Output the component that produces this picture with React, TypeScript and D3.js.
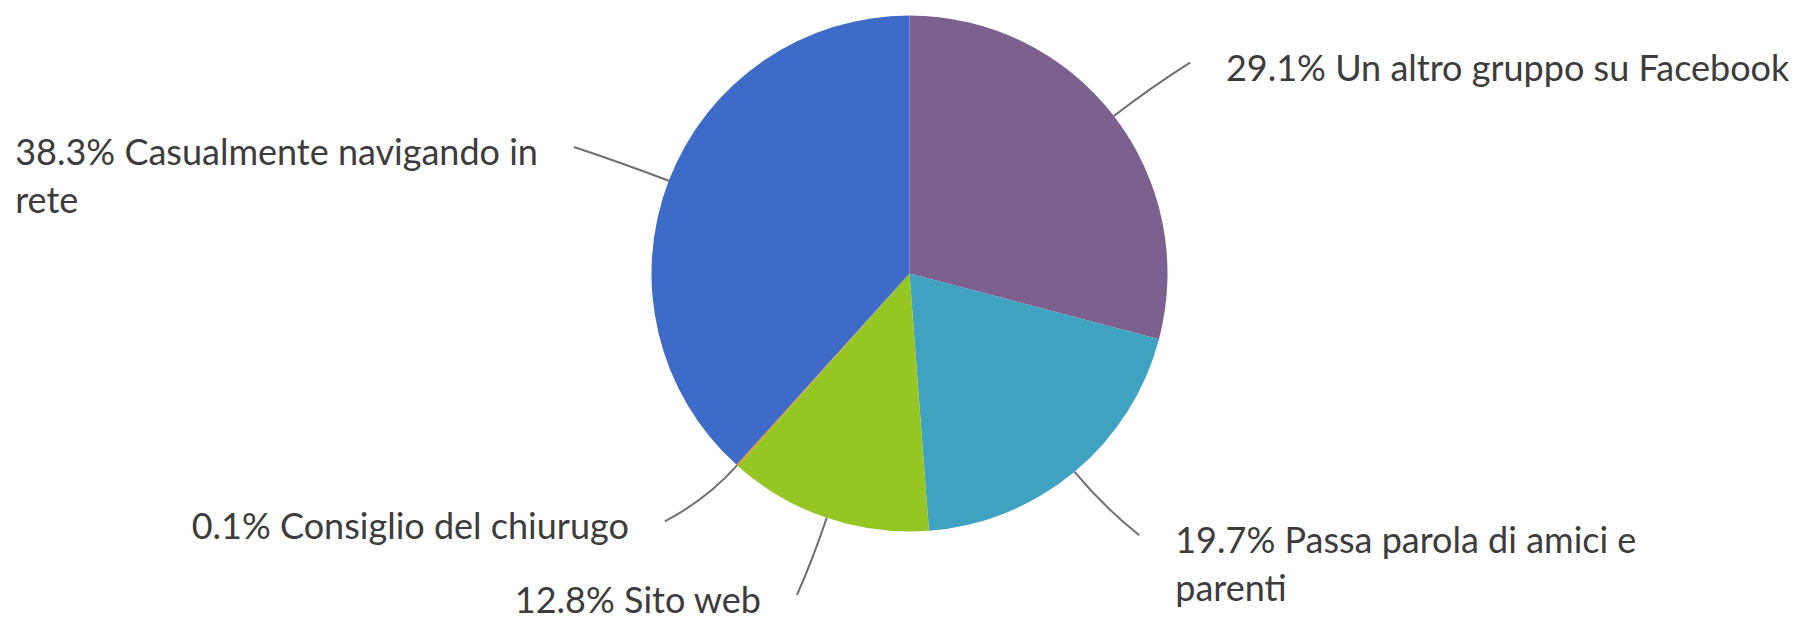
import React, { useEffect, useRef } from "react";
import * as d3 from "d3";

// ---- data (clockwise from 12 o'clock) ----
const categories = [
  "Un altro gruppo su Facebook",
  "Passa parola di amici e\nparenti",
  "Sito web",
  "Consiglio del chiurugo",
  "Casualmente navigando in\nrete",
];
const values = [29.1, 19.7, 12.8, 0.1, 38.3];
const colors = ["#7C608E", "#40A2C1", "#95C624", "#E38A2C", "#3E6BC8"];

// ---- layout ----
const labelAngleNudge = [0.012, -0.026, 0.01, 0.047, -0.007];
const labelRadiusMul = [1.36, 1.35, 1.32, 1.35, 1.39];

const W = 1799;
const H = 618;
const CX = 909.5;
const CY = 273.5;
const R = 258;
const FONT = "Lato, 'Open Sans', sans-serif";
const FS = 36;
const LINE_H = 48;
const TEXT_DX = 36;
const TEXT_DY = 18;

export default function App() {
  const ref = useRef<SVGSVGElement>(null);

  useEffect(() => {
    const svg = d3.select(ref.current);
    svg.selectAll("*").remove();
    const data = categories.map((c, i) => ({ name: c, value: values[i], color: colors[i], i }));
    const pie = d3.pie<any>().value((d: any) => d.value).sort(null);
    const arcs = pie(data);
    const arc = d3.arc<any>().innerRadius(0).outerRadius(R);

    const g = svg.append("g").attr("transform", `translate(${CX},${CY})`);
    g.selectAll("path.slice")
      .data(arcs)
      .join("path")
      .attr("class", "slice")
      .attr("d", arc as any)
      .attr("fill", (d: any) => d.data.color);

    const fmt = d3.format(".1f");
    arcs.forEach((a: any, i: number) => {
      const mid = (a.startAngle + a.endAngle) / 2;
      const la = mid + labelAngleNudge[i];
      const p0 = [R * Math.sin(mid), -R * Math.cos(mid)];
      const p1 = [1.18 * R * Math.sin(mid), -1.18 * R * Math.cos(mid)];
      const rm = labelRadiusMul[i] * R;
      const p2 = [rm * Math.sin(la), -rm * Math.cos(la)];
      const right = Math.sin(la) > 0;

      g.append("path")
        .attr("d", `M${p0[0]},${p0[1]} Q${p1[0]},${p1[1]} ${p2[0]},${p2[1]}`)
        .attr("fill", "none")
        .attr("stroke", "#707070")
        .attr("stroke-width", 2);

      const lines = `${fmt(a.data.value)}% ${a.data.name}`.split("\n");
      const t = g.append("text")
        .attr("font-family", FONT)
        .attr("font-size", FS)
        .attr("fill", "#3c3c3c");
      lines.forEach((ln, k) => {
        t.append("tspan").attr("x", 0).attr("y", k * LINE_H).text(ln);
      });
      let maxW = 0;
      t.selectAll("tspan").each(function () {
        const w = (this as SVGTSpanElement).getComputedTextLength();
        if (w > maxW) maxW = w;
      });
      const tx = right ? p2[0] + TEXT_DX : p2[0] - TEXT_DX - maxW;
      const ty = p2[1] + TEXT_DY;
      t.attr("transform", `translate(${tx},${ty})`);
    });
  }, []);

  return (
    <svg
      ref={ref}
      width={W}
      height={H}
      style={{ position: "absolute", left: 0, top: 0, background: "#fff" }}
    />
  );
}
